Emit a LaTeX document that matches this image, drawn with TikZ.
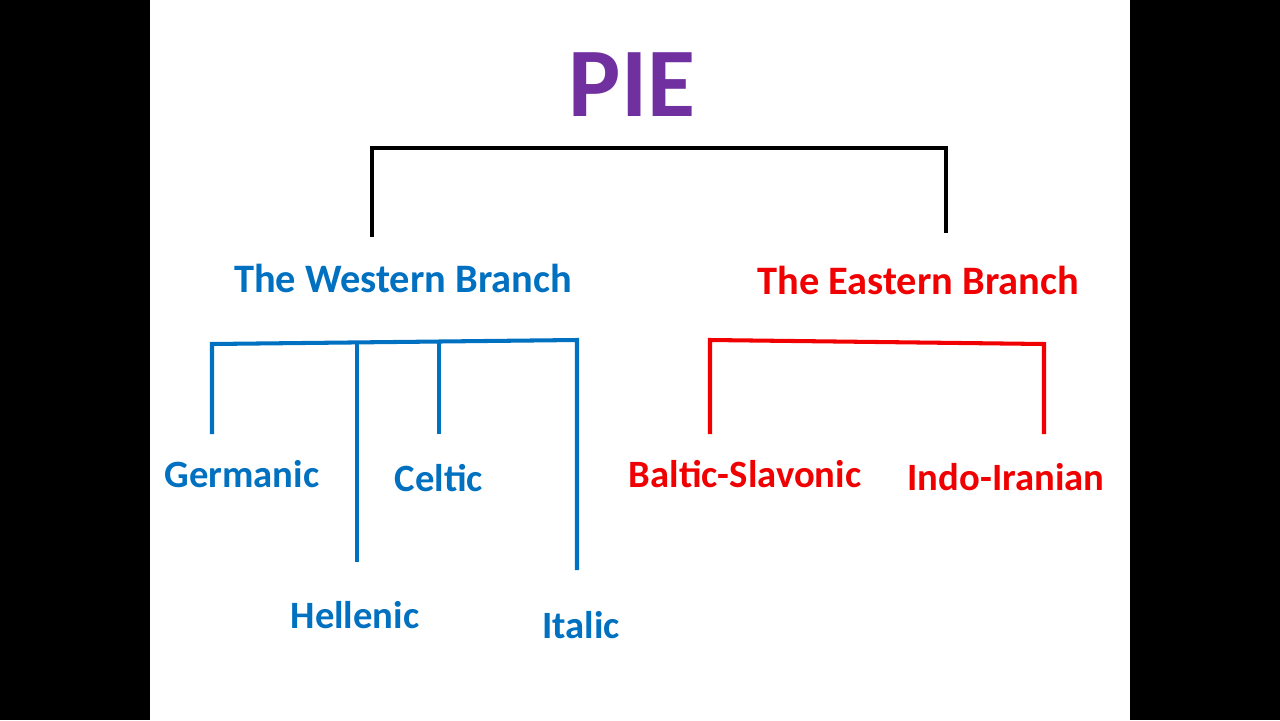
\documentclass[tikz,border=0pt]{standalone}
\usepackage{fontspec}
\setmainfont{Carlito}
\definecolor{westblue}{RGB}{0,112,192}
\definecolor{eastred}{RGB}{240,0,0}
\definecolor{piepurple}{RGB}{112,48,160}
\tikzset{
  lang/.style={font=\bfseries\fontsize{22}{26}\selectfont},
  branch/.style={font=\bfseries\fontsize{23}{28}\selectfont},
  bar/.style={line width=2.3pt}
}
\begin{document}
\begin{tikzpicture}[x=0.02cm, y=-0.02cm]

% Frame
\fill[black] (0,0) rectangle (1280,720);
\fill[white] (150,0) rectangle (1130,720);

% Root
\node[font=\bfseries\fontsize{56}{60}\selectfont, text=piepurple] (pie) at (632,85) {PIE};
\coordinate (topL) at (372,148);
\coordinate (topR) at (946,148);
\coordinate (westtop) at (372,237);
\coordinate (easttop) at (946,233);
\draw[bar] (westtop) -- (topL) -- (topR) -- (easttop);

% Branches
\node[branch, text=westblue] (west) at (403,278) {The Western Branch};
\node[branch, text=eastred] (east) at (918,280) {The Eastern Branch};

% Western
\coordinate (w1) at (212,344);
\coordinate (w2) at (357,343);
\coordinate (w3) at (439,342);
\coordinate (w4) at (577,340);
\node[lang, text=westblue] (germanic) at (242,474) {Germanic};
\node[lang, text=westblue] (celtic) at (439,478) {Celtic};
\node[lang, text=westblue] (hellenic) at (355,615) {Hellenic};
\node[lang, text=westblue] (italic) at (581,625) {Italic};
\draw[bar, westblue] (212,434) -- (w1) -- (w4) -- (577,570);
\draw[bar, westblue] (w2) -- (357,562);
\draw[bar, westblue] (w3) -- (439,434);

% Eastern
\coordinate (e1) at (710,340);
\coordinate (e2) at (1044,344);
\node[lang, text=eastred] (baltic) at (745,474) {Baltic-Slavonic};
\node[lang, text=eastred] (indo) at (1006,477) {Indo-Iranian};
\draw[bar, eastred] (710,434) -- (e1) -- (e2) -- (1044,434);

\end{tikzpicture}
\end{document}
